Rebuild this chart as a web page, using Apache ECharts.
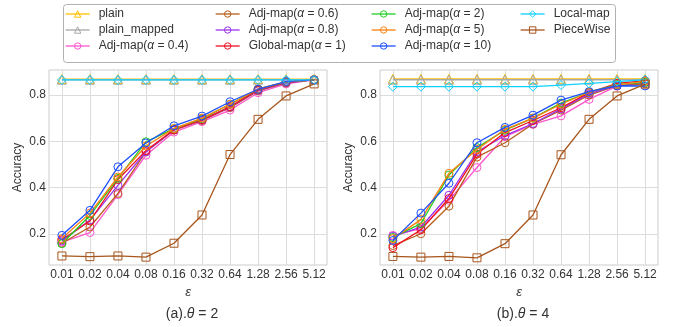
<!DOCTYPE html>
<html>
<head>
<meta charset="utf-8">
<script src="https://cdn.jsdelivr.net/npm/echarts@6/dist/echarts.min.js"></script>
<style>
  html, body { margin: 0; padding: 0; background: #fff; }
  #chart { width: 681px; height: 327px; }
</style>
</head>
<body>
<div id="chart"></div>
<script>
const epsLabels = ["0.01", "0.02", "0.04", "0.08", "0.16", "0.32", "0.64", "1.28", "2.56", "5.12"];
const yTicks = [0.2, 0.4, 0.6, 0.8];

// (a) theta = 2
const plainA = [0.869, 0.869, 0.869, 0.869, 0.869, 0.869, 0.869, 0.869, 0.869, 0.869];
const plainMappedA = [0.866, 0.866, 0.866, 0.866, 0.866, 0.866, 0.866, 0.866, 0.866, 0.866];
const adj04A = [0.165, 0.206, 0.37, 0.54, 0.64, 0.685, 0.735, 0.81, 0.848, 0.865];
const adj06A = [0.16, 0.23, 0.375, 0.555, 0.648, 0.69, 0.745, 0.818, 0.852, 0.866];
const adj08A = [0.17, 0.26, 0.41, 0.555, 0.65, 0.692, 0.748, 0.82, 0.853, 0.866];
const glob1A = [0.175, 0.256, 0.435, 0.56, 0.65, 0.693, 0.75, 0.822, 0.855, 0.866];
const adj2A = [0.158, 0.28, 0.44, 0.598, 0.655, 0.698, 0.76, 0.825, 0.857, 0.866];
const adj5A = [0.18, 0.29, 0.446, 0.58, 0.655, 0.70, 0.76, 0.826, 0.857, 0.866];
const adj10A = [0.194, 0.302, 0.49, 0.593, 0.667, 0.709, 0.771, 0.825, 0.858, 0.865];
const localA = [0.865, 0.865, 0.865, 0.865, 0.865, 0.865, 0.865, 0.865, 0.865, 0.865];
const pieceA = [0.105, 0.102, 0.105, 0.10, 0.16, 0.282, 0.543, 0.695, 0.796, 0.848];

// (b) theta = 4
const plainB = [0.870, 0.870, 0.870, 0.870, 0.870, 0.870, 0.870, 0.870, 0.870, 0.870];
const plainMappedB = [0.866, 0.866, 0.866, 0.866, 0.866, 0.866, 0.866, 0.866, 0.866, 0.866];
const adj04B = [0.194, 0.223, 0.345, 0.487, 0.62, 0.673, 0.71, 0.781, 0.838, 0.855];
const adj06B = [0.15, 0.201, 0.32, 0.532, 0.594, 0.675, 0.735, 0.80, 0.84, 0.848];
const adj08B = [0.19, 0.23, 0.367, 0.555, 0.625, 0.677, 0.74, 0.805, 0.842, 0.855];
const glob1B = [0.141, 0.218, 0.353, 0.545, 0.638, 0.69, 0.745, 0.81, 0.85, 0.862];
const adj2B = [0.185, 0.245, 0.454, 0.573, 0.648, 0.70, 0.765, 0.812, 0.845, 0.855];
const adj5B = [0.18, 0.262, 0.462, 0.565, 0.652, 0.70, 0.76, 0.812, 0.843, 0.86];
const adj10B = [0.172, 0.29, 0.419, 0.594, 0.66, 0.713, 0.778, 0.815, 0.84, 0.839];
const localB = [0.836, 0.836, 0.836, 0.836, 0.836, 0.836, 0.843, 0.85, 0.858, 0.866];
const pieceB = [0.103, 0.10, 0.103, 0.097, 0.158, 0.282, 0.542, 0.695, 0.796, 0.847];

const seriesDefs = [
  { name: "plain", color: "#ffc000", symbol: "triangle", size: 9 },
  { name: "plain_mapped", color: "#a8a8a8", symbol: "triangle", size: 9 },
  { name: "Adj-map(α = 0.4)", color: "#ff55cc", symbol: "circle", size: 8 },
  { name: "Adj-map(α = 0.6)", color: "#b85c1a", symbol: "circle", size: 8 },
  { name: "Adj-map(α = 0.8)", color: "#9933ee", symbol: "circle", size: 8 },
  { name: "Global-map(α = 1)", color: "#f01020", symbol: "circle", size: 8 },
  { name: "Adj-map(α = 2)", color: "#22cc22", symbol: "circle", size: 8 },
  { name: "Adj-map(α = 5)", color: "#ff7f0e", symbol: "circle", size: 8 },
  { name: "Adj-map(α = 10)", color: "#1f4fff", symbol: "circle", size: 8 },
  { name: "Local-map", color: "#10d0ff", symbol: "diamond", size: 9 },
  { name: "PieceWise", color: "#a8551c", symbol: "rect", size: 8 }
];
const dataA = [plainA, plainMappedA, adj04A, adj06A, adj08A, glob1A, adj2A, adj5A, adj10A, localA, pieceA];
const dataB = [plainB, plainMappedB, adj04B, adj06B, adj08B, glob1B, adj2B, adj5B, adj10B, localB, pieceB];

const font = "Liberation Sans, Arial, sans-serif";
const textCol = "#333333";

function makeSeries(data, idx) {
  return seriesDefs.map((d, i) => ({
    name: d.name,
    type: "line",
    xAxisIndex: idx,
    yAxisIndex: idx,
    data: data[i].map((v, k) => [k, v]),
    symbol: d.symbol,
    symbolSize: d.size,
    showSymbol: true,
    lineStyle: { color: d.color, width: 1.3 },
    itemStyle: { color: "rgba(255,255,255,0)", borderColor: d.color, borderWidth: 1 },
    emphasis: { disabled: true },
    z: 2 + i,
    animation: false
  }));
}

function xAxis(idx) {
  return {
    type: "value",
    gridIndex: idx,
    min: -0.46,
    max: 9.46,
    name: "ε",
    nameLocation: "middle",
    nameGap: 21,
    nameTextStyle: { fontFamily: font, fontSize: 13, fontStyle: "italic", color: textCol },
    axisLine: { show: false },
    axisTick: { show: false, customValues: [0, 1, 2, 3, 4, 5, 6, 7, 8, 9] },
    axisLabel: {
      customValues: [0, 1, 2, 3, 4, 5, 6, 7, 8, 9],
      formatter: v => epsLabels[Math.round(v)],
      fontFamily: font, fontSize: 12, color: textCol, margin: 4
    },
    splitLine: { show: true, lineStyle: { color: "#dcdcdc", width: 1 } }
  };
}

function yAxis(idx) {
  return {
    type: "value",
    gridIndex: idx,
    min: 0.066,
    max: 0.908,
    name: "Accuracy",
    nameLocation: "middle",
    nameGap: 25,
    nameTextStyle: { fontFamily: font, fontSize: 12, color: textCol },
    axisLine: { show: false },
    axisTick: { show: false, customValues: yTicks },
    axisLabel: {
      customValues: yTicks,
      formatter: v => v.toFixed(1),
      fontFamily: font, fontSize: 12, color: textCol, margin: 3
    },
    splitLine: { show: true, lineStyle: { color: "#dcdcdc", width: 1 } }
  };
}

const legendCols = [[0, 1, 2], [3, 4, 5], [6, 7, 8], [9, 10]];
const legendLeft = [65, 215, 371, 520];
const legends = legendCols.map((col, c) => ({
  orient: "vertical",
  left: legendLeft[c],
  top: 8,
  padding: 0,
  itemWidth: 24,
  itemHeight: 8,
  itemGap: 4,
  lineStyle: { width: 1.3 },
  itemStyle: { borderWidth: 1 },
  data: col.map(i => seriesDefs[i].name),
  formatter: n => n.replace("α", "{i|α}"),
  textStyle: {
    fontFamily: font, fontSize: 12, lineHeight: 12, color: textCol, padding: [0, 0, 0, 4],
    rich: { i: { fontStyle: "italic", fontFamily: font, fontSize: 12, lineHeight: 12, color: textCol } }
  }
}));

const chart = echarts.init(document.getElementById("chart"), null, { renderer: "canvas" });
chart.setOption({
  backgroundColor: "#ffffff",
  animation: false,
  title: [
    {
      text: "(a).{i|θ} = 2", left: 187, top: 302, textAlign: "center",
      textStyle: { fontFamily: font, fontSize: 14, fontWeight: "normal", color: textCol,
        rich: { i: { fontStyle: "italic", fontFamily: font, fontSize: 14, color: textCol } } }
    },
    {
      text: "(b).{i|θ} = 4", left: 518, top: 302, textAlign: "center",
      textStyle: { fontFamily: font, fontSize: 14, fontWeight: "normal", color: textCol,
        rich: { i: { fontStyle: "italic", fontFamily: font, fontSize: 14, color: textCol } } }
    }
  ],
  legend: legends,
  graphic: [{
    type: "rect", left: 61, top: 2, shape: { width: 552, height: 58, r: 3 },
    style: { fill: "none", stroke: "#b0b0b0", lineWidth: 1 }, z: -1
  }],
  grid: [
    { left: 49, top: 70, width: 278, height: 195, show: true, borderColor: "#cccccc", borderWidth: 1, backgroundColor: "#fff" },
    { left: 380, top: 70, width: 278, height: 195, show: true, borderColor: "#cccccc", borderWidth: 1, backgroundColor: "#fff" }
  ],
  xAxis: [xAxis(0), xAxis(1)],
  yAxis: [yAxis(0), yAxis(1)],
  series: makeSeries(dataA, 0).concat(makeSeries(dataB, 1))
});
</script>
</body>
</html>
